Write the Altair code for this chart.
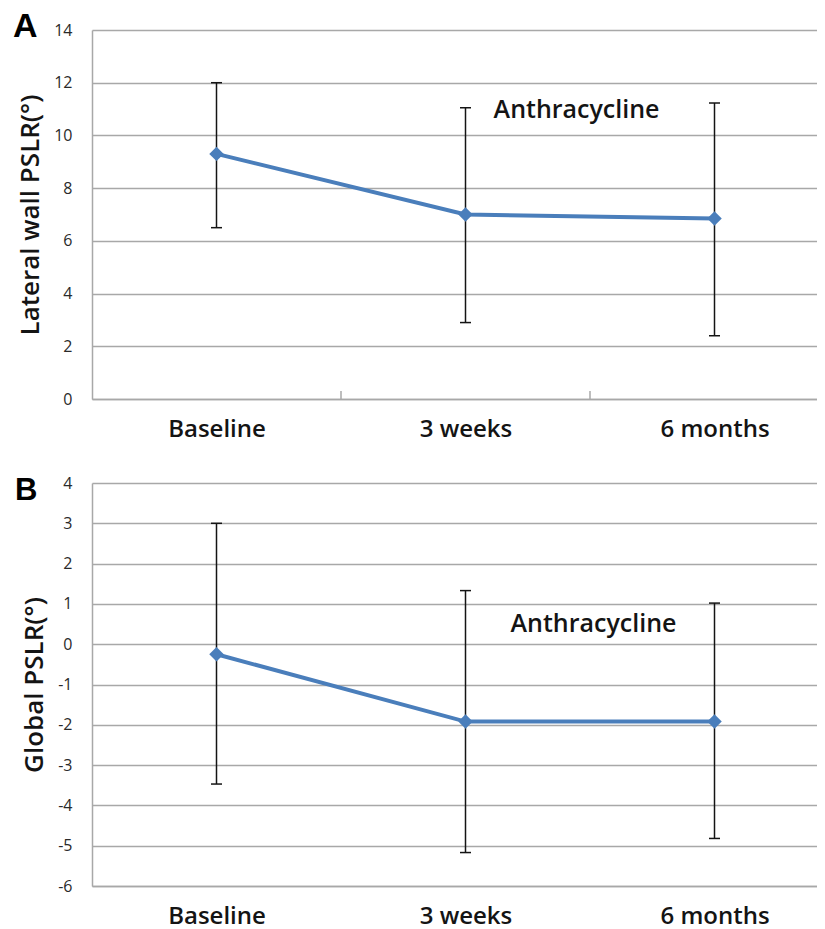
import json
import altair as alt
import pandas as pd

# ---- data ----
categories = ["Baseline", "3 weeks", "6 months"]

a_mean = [9.3, 7.0, 6.85]
a_high = [12.0, 11.05, 11.23]
a_low = [6.5, 2.9, 2.4]

b_mean = [-0.25, -1.92, -1.92]
b_high = [3.0, 1.33, 1.02]
b_low = [-3.47, -5.17, -4.82]

a_ticks = [0, 2, 4, 6, 8, 10, 12, 14]
b_ticks = [-6, -5, -4, -3, -2, -1, 0, 1, 2, 3, 4]

annot_text = "Anthracycline"
a_annot = (1.946, 10.67)   # (category position, value)
b_annot = (2.014, 0.315)

# ---- styling ----
FONT = "Open Sans"
LINE_BLUE = "#4a7ebb"
GRID = "#a8a8a8"
INK = "#141414"
WIDTH = 725
X_MAX = 725 / 249

label_expr = json.dumps(categories) + "[floor(datum.value)]"


def panel(letter, mean, high, low, ticks, ymin, ymax, ytitle, annot, height,
          letter_size, letter_xy, boundary_ticks):
    df = pd.DataFrame({
        "pos": [i + 0.5 for i in range(len(categories))],
        "cat": categories,
        "mean": mean,
        "high": high,
        "low": low,
    })
    xscale = alt.Scale(domain=[0, X_MAX], nice=False, zero=False)
    x = alt.X(
        "pos:Q",
        scale=xscale,
        axis=alt.Axis(
            values=[i + 0.5 for i in range(len(categories))],
            labelExpr=label_expr,
            ticks=False, tickSize=0, grid=False,
            domainColor=GRID, domainWidth=1.5,
            labelFont=FONT, labelFontSize=24, labelFontWeight=600,
            labelColor=INK, labelPadding=18, title=None,
        ),
    )
    yscale = alt.Scale(domain=[ymin, ymax], nice=False, zero=False)
    yaxis = alt.Axis(
        values=ticks, grid=True, gridColor=GRID, gridWidth=1.5,
        domainColor=GRID, domainWidth=1.5, ticks=False, tickSize=0,
        labelExpr="'' + datum.value",
        labelFont=FONT, labelFontSize=16, labelColor="#2a2a2a",
        labelPadding=20, title=ytitle, titleFont=FONT, titleFontSize=26,
        titleFontWeight=600, titleColor=INK, titlePadding=10,
    )
    base = alt.Chart(df)
    bars = base.mark_rule(color=INK, strokeWidth=1.5).encode(
        x=x, y=alt.Y("low:Q", scale=yscale, axis=yaxis), y2="high:Q")
    cap_hi = base.mark_tick(orient="horizontal", size=11, thickness=1.5,
                            color=INK, opacity=1).encode(x=x, y=alt.Y("high:Q", scale=yscale))
    cap_lo = base.mark_tick(orient="horizontal", size=11, thickness=1.5,
                            color=INK, opacity=1).encode(x=x, y=alt.Y("low:Q", scale=yscale))
    line = base.mark_line(color=LINE_BLUE, strokeWidth=4).encode(
        x=x, y=alt.Y("mean:Q", scale=yscale))
    pts = base.mark_point(shape="diamond", filled=True, size=210,
                          color=LINE_BLUE, opacity=1).encode(
        x=x, y=alt.Y("mean:Q", scale=yscale))
    adf = pd.DataFrame({"pos": [annot[0]], "val": [annot[1]], "t": [annot_text]})
    ann = alt.Chart(adf).mark_text(
        font=FONT, fontSize=25, fontWeight=600, color=INK,
        align="center", baseline="alphabetic").encode(
        x=alt.X("pos:Q", scale=xscale),
        y=alt.Y("val:Q", scale=yscale), text="t:N")
    let = alt.Chart(pd.DataFrame({"t": [letter]})).mark_text(
        font="Liberation Sans", fontSize=letter_size, fontWeight="bold",
        color="#000000", align="left", baseline="top").encode(
        x=alt.value(letter_xy[0]), y=alt.value(letter_xy[1]), text="t:N")
    layers = [bars, cap_hi, cap_lo, line, pts, ann, let]
    if boundary_ticks:
        tdf = pd.DataFrame({"pos": [float(i) for i in range(1, len(categories))]})
        bt = alt.Chart(tdf).mark_rule(color=GRID, strokeWidth=1.5).encode(
            x=alt.X("pos:Q", scale=xscale),
            y=alt.value(height), y2=alt.value(height - 8))
        layers.append(bt)
    return alt.layer(*layers).properties(width=WIDTH, height=height)


pa = panel("A", a_mean, a_high, a_low, a_ticks, 0, 14, "Lateral wall PSLR(°)",
           a_annot, 369, 34, (-79, -20), True)
pb = panel("B", b_mean, b_high, b_low, b_ticks, -6, 4, "Global PSLR(°)",
           b_annot, 403, 31, (-77, -7), False)

chart = alt.vconcat(pa, pb, spacing=34).properties(
    padding={"left": 5, "top": 2, "right": 0, "bottom": 0},
    background="white",
).configure_view(stroke=None)

chart.save("out.html", embed_options={"renderer": "svg", "actions": False})
